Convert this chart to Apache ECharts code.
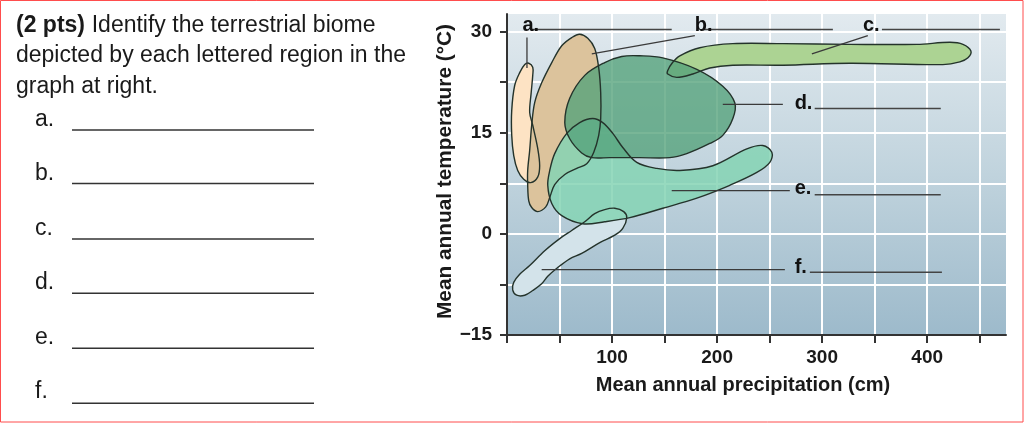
<!DOCTYPE html>
<html><head><meta charset="utf-8">
<script src="https://cdn.jsdelivr.net/npm/echarts@6/dist/echarts.min.js"></script>
<style>html,body{margin:0;padding:0;background:#fff}#c{width:1024px;height:423px}</style>
</head><body><div id="c"></div>
<script>
// ---- axis ticks / labels ----
const xTickValues = [0, 50, 100, 150, 200, 250, 300, 350, 400, 450];
const xTickLabels = [100, 200, 300, 400];
const yTickValues = [-15, -7.5, 0, 7.5, 15, 22.5, 30];
const yTickLabels = [-15, 0, 15, 30];

// ---- biome outlines: [precipitation (cm), temperature (°C)] ----
const biomeA = [[20.7,25.3],[24.5,24.7],[24.5,23.5],[23.0,20.9],[21.6,18.0],[24.5,16.1],[29.2,12.7],[31.1,10.1],[29.2,8.4],[22.6,7.6],[15.9,8.1],[10.2,9.4],[6.4,11.6],[4.5,14.6],[4.5,18.3],[7.3,22.0],[12.1,23.9],[16.9,25.1]];
const biomeB = [[69.2,29.6],[76.9,29.0],[83.5,27.5],[87.3,24.6],[89.2,20.9],[89.2,17.1],[87.3,14.6],[82.6,12.1],[75.9,10.4],[66.4,9.7],[55.0,8.8],[45.4,7.3],[40.7,5.4],[36.9,4.0],[29.2,3.3],[23.5,3.9],[20.7,4.9],[19.7,7.2],[19.7,9.4],[21.6,12.4],[23.5,16.1],[26.4,19.5],[33.0,22.4],[42.6,25.4],[52.1,27.9],[61.6,29.1]];
const biomeC = [[152.9,24.2],[157.6,25.4],[164.5,26.4],[183.5,27.6],[214.9,28.2],[262.6,28.2],[326.4,28.1],[390.2,28.1],[421.6,28.4],[434.0,28.1],[441.6,27.1],[438.8,26.1],[431.1,25.5],[414.9,25.1],[326.4,25.3],[262.6,25.0],[214.9,25.0],[193.0,24.6],[176.9,23.7],[161.6,23.2],[153.0,23.7]];
const biomeD = [[126.4,26.4],[148.3,26.1],[180.7,24.4],[205.4,21.9],[216.9,19.4],[215.0,17.1],[205.4,14.6],[193.0,13.4],[171.1,11.9],[154.9,11.3],[126.4,11.3],[97.8,11.3],[80.7,11.3],[71.1,12.0],[59.7,14.1],[55.0,16.5],[59.7,20.1],[74.0,23.5],[93.0,25.4],[109.2,26.3]];
const biomeE = [[81.6,17.1],[91.1,16.5],[100.7,14.9],[110.2,12.8],[123.5,10.6],[142.6,9.7],[164.5,9.4],[195.9,10.1],[228.3,12.6],[243.5,13.1],[252.1,12.1],[250.2,10.6],[237.8,9.1],[212.1,7.2],[180.7,5.3],[148.3,3.8],[116.9,2.4],[93.0,1.8],[72.1,1.5],[52.1,2.7],[42.6,4.5],[38.8,7.2],[40.7,9.4],[45.4,11.9],[56.9,14.9],[69.2,16.5]];
const biomeF = [[93.0,3.6],[102.6,3.8],[111.1,3.3],[114.0,2.4],[110.2,0.8],[102.6,-0.2],[88.3,-1.3],[71.1,-2.9],[59.7,-3.7],[48.3,-5.0],[38.8,-6.3],[33.0,-7.4],[24.5,-8.4],[16.9,-9.1],[9.2,-9.1],[5.4,-8.3],[6.4,-7.2],[12.1,-6.0],[21.6,-4.7],[35.9,-2.5],[50.2,-0.7],[61.6,0.5],[74.0,1.8],[83.5,3.0]];

// ---- annotation letters, leader lines, answer blanks (data coords) ----
const letterNames = ['a.', 'b.', 'c.', 'd.', 'e.', 'f.'];
const letterAnchors = [[14.7,30.9],[178.8,30.9],[338.8,30.9],[273.8,19.3],[273.8,6.7],[273.8,-5.0]];
const leaderLines = [[19.0,29.1,19.0,24.6],[178.8,29.4,80.7,26.7],[343.5,29.4,290.2,26.7],[205.4,19.2,262.6,19.2],[156.8,6.4,269.2,6.4],[33.0,-5.3,264.5,-5.3]];
const blankLines = [[22.3,30.3,156.8,30.3],[186.4,30.3,310.2,30.3],[356.9,30.3,469.2,30.3],[292.9,18.6,412.9,18.6],[292.9,5.8,412.9,5.8],[288.3,-5.7,414.0,-5.7]];

// ---- question text ----
const questionBold = '(2 pts)';
const questionLines = ['Identify the terrestrial biome', 'depicted by each lettered region in the', 'graph at right.'];
const answerLetters = ['a.', 'b.', 'c.', 'd.', 'e.', 'f.'];

const FONT = '"Liberation Sans", Arial, Helvetica, sans-serif';
const chart = echarts.init(document.getElementById('c'), null, {renderer: 'canvas'});

function fillSeries(pts, color, opacity, z) {
  return {
    type: 'custom', coordinateSystem: 'cartesian2d', silent: true, animation: false, z: z,
    data: pts, encode: {x: 0, y: 1},
    renderItem: function (params, api) {
      if (params.dataIndex !== 0) return null;
      const points = pts.map(p => api.coord(p));
      return {type: 'polygon', shape: {points: points, smooth: 0.35},
              style: {fill: color, opacity: opacity, stroke: null}};
    }
  };
}
function outlineSeries(pts, z) {
  return {
    type: 'custom', coordinateSystem: 'cartesian2d', silent: true, animation: false, z: z,
    data: pts, encode: {x: 0, y: 1},
    renderItem: function (params, api) {
      if (params.dataIndex !== 0) return null;
      const points = pts.map(p => api.coord(p));
      return {type: 'polygon', shape: {points: points, smooth: 0.35},
              style: {fill: null, stroke: '#24332b', lineWidth: 1.4}};
    }
  };
}
function segSeries(segs, color, width, z) {
  return {
    type: 'custom', coordinateSystem: 'cartesian2d', silent: true, animation: false, z: z,
    data: segs, encode: {x: [0, 2], y: [1, 3]},
    renderItem: function (params, api) {
      const p1 = api.coord([api.value(0), api.value(1)]);
      const p2 = api.coord([api.value(2), api.value(3)]);
      return {type: 'line', shape: {x1: p1[0], y1: p1[1], x2: p2[0], y2: p2[1]},
              style: {stroke: color, lineWidth: width}};
    }
  };
}
const letterSeries = {
  type: 'custom', coordinateSystem: 'cartesian2d', silent: true, animation: false, z: 20,
  data: letterAnchors, encode: {x: 0, y: 1},
  renderItem: function (params, api) {
    const p = api.coord([api.value(0), api.value(1)]);
    return {type: 'text', x: p[0], y: p[1],
            style: {text: letterNames[params.dataIndex], font: 'bold 20px ' + FONT, fill: '#111',
                    textAlign: 'left', textVerticalAlign: 'middle'}};
  }
};

const bgGradient = new echarts.graphic.LinearGradient(0, 0, 0, 1, [
  {offset: 0, color: '#e2eaef'}, {offset: 0.5, color: '#c0d3dd'}, {offset: 1, color: '#9dbacb'}
]);

const graphics = [
  {type: 'rect', shape: {x: 0.5, y: 0.5, width: 1022.5, height: 421.5}, style: {fill: null, stroke: '#ff4d4d', lineWidth: 1}, z: 100},
  {type: 'text', x: 16, y: 25.5, style: {text: questionBold, font: 'bold 23px ' + FONT, fill: '#1a1a1a', textVerticalAlign: 'middle'}},
  {type: 'text', x: 91.7, y: 25.5, style: {text: questionLines[0], font: '23px ' + FONT, fill: '#1a1a1a', textVerticalAlign: 'middle'}},
  {type: 'text', x: 16, y: 56, style: {text: questionLines[1], font: '23px ' + FONT, fill: '#1a1a1a', textVerticalAlign: 'middle'}},
  {type: 'text', x: 16, y: 86.7, style: {text: questionLines[2], font: '23px ' + FONT, fill: '#1a1a1a', textVerticalAlign: 'middle'}}
];
const letterY = [119.5, 174, 228.5, 283, 337.5, 392];
const blankY = [130, 183.5, 239, 293.3, 348.3, 403.3];
answerLetters.forEach(function (t, i) {
  graphics.push({type: 'text', x: 35, y: letterY[i], style: {text: t, font: '23px ' + FONT, fill: '#1a1a1a', textVerticalAlign: 'middle'}});
  graphics.push({type: 'line', shape: {x1: 72, y1: blankY[i], x2: 314, y2: blankY[i]}, style: {stroke: '#333', lineWidth: 1.5}});
});

chart.setOption({
  animation: false,
  backgroundColor: '#ffffff',
  grid: {left: 507, top: 14, right: 18, bottom: 88, show: true, backgroundColor: bgGradient, borderWidth: 0},
  xAxis: {
    type: 'value', min: 0, max: 475, interval: 50,
    name: 'Mean annual precipitation (cm)', nameLocation: 'middle', nameGap: 40,
    nameTextStyle: {fontWeight: 'bold', fontSize: 20, fontFamily: FONT, color: '#1a1a1a', padding: [0, 27, 0, 0]},
    axisLine: {show: true, onZero: false, lineStyle: {color: '#333', width: 2}},
    axisTick: {show: true, length: 8, customValues: xTickValues, lineStyle: {color: '#333', width: 2}},
    axisLabel: {customValues: xTickLabels, margin: 13, fontSize: 19, fontWeight: 'bold', fontFamily: FONT, color: '#1a1a1a',
                formatter: v => xTickLabels.indexOf(v) >= 0 ? String(v) : ''},
    splitLine: {show: true, lineStyle: {color: '#ffffff', width: 2}}
  },
  yAxis: {
    type: 'value', min: -15, max: 32.6, interval: 7.5,
    name: 'Mean annual temperature (°C)', nameLocation: 'middle', nameGap: 43, nameRotate: 90,
    nameTextStyle: {fontWeight: 'bold', fontSize: 20.8, fontFamily: FONT, color: '#1a1a1a', padding: [0, 0, 0, 6]},
    axisLine: {show: true, onZero: false, lineStyle: {color: '#333', width: 2}},
    axisTick: {show: true, length: 7, customValues: yTickValues, lineStyle: {color: '#333', width: 2}},
    axisLabel: {customValues: yTickLabels, margin: 15, fontSize: 19, fontWeight: 'bold', fontFamily: FONT, color: '#1a1a1a',
                formatter: v => yTickLabels.indexOf(v) >= 0 ? (v < 0 ? '\u2212' + Math.abs(v) : String(v)) : ''},
    splitLine: {show: true, lineStyle: {color: '#ffffff', width: 2}}
  },
  graphic: graphics,
  series: [
    fillSeries(biomeC, '#acd393', 1, 2),
    fillSeries(biomeA, '#fde3c4', 1, 3),
    fillSeries(biomeB, '#dcc39c', 1, 4),
    fillSeries(biomeF, '#d3e3ea', 1, 5),
    fillSeries(biomeE, '#85d4b4', 0.85, 6),
    fillSeries(biomeD, '#53a27a', 0.78, 7),
    outlineSeries(biomeA, 10), outlineSeries(biomeB, 10), outlineSeries(biomeC, 10),
    outlineSeries(biomeD, 10), outlineSeries(biomeE, 10), outlineSeries(biomeF, 10),
    segSeries(leaderLines, '#3a3a3a', 1.3, 12),
    segSeries(blankLines, '#444', 1.5, 12),
    letterSeries
  ]
});
</script></body></html>
